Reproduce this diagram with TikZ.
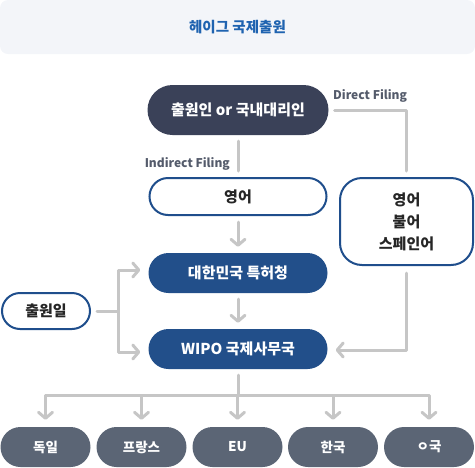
\documentclass[tikz,border=0pt]{standalone}
\usepackage{fontspec}
\setmainfont{Noto Sans CJK KR}
\usetikzlibrary{arrows.meta,shapes.misc}
\definecolor{titlebg}{HTML}{F3F5F9}
\definecolor{titlefg}{HTML}{1F63B0}
\definecolor{navy}{HTML}{3A4158}
\definecolor{kblue}{HTML}{224F8A}
\definecolor{kborder}{HTML}{1F4E8C}
\definecolor{slate}{HTML}{5B6575}
\definecolor{agray}{HTML}{C6C6C6}
\definecolor{lbl}{HTML}{545B6B}
\tikzset{
  pill/.style={rounded rectangle, inner sep=0pt, text centered,
    font=\fontsize{15}{17}\selectfont\bfseries},
  darkpill/.style={pill, fill=navy, text=white, minimum width=181pt, minimum height=50pt},
  outpill/.style={pill, draw=kborder, line width=2pt, fill=white, text=black!85,
    minimum width=177pt, minimum height=37pt},
  bluepill/.style={pill, fill=kblue, text=white, minimum width=179pt, minimum height=40pt},
  cpill/.style={pill, fill=slate, text=white, minimum width=90pt, minimum height=40pt,
    font=\fontsize{13.5}{15}\selectfont\bfseries},
  conn/.style={draw=agray, line width=3pt, line cap=round, line join=round},
  arr/.style={conn, -{Straight Barb[round, length=6pt, width=14pt]}},
  flabel/.style={text=lbl, font=\fontsize{12}{14}\selectfont\bfseries, inner sep=0pt}
}
\begin{document}
\begin{tikzpicture}[x=1pt,y=-1pt]
\useasboundingbox (0,0) rectangle (475,467);
\node[rounded corners=8pt, fill=titlebg, minimum width=475pt, minimum height=54pt,
  inner sep=0pt, text=titlefg, font=\fontsize{14.5}{16}\selectfont\bfseries]
  (title) at (237.5,27) {헤이그 국제출원};

\node[darkpill] (src) at (238,110) {출원인 or 국내대리인};
\node[outpill] (eng) at (238,196.5) {영어};
\node[draw=kborder, line width=2pt, fill=white, rounded corners=22pt,
  minimum width=133pt, minimum height=87pt, inner sep=0pt, align=center,
  text=black!85, font=\fontsize{15}{22}\selectfont\bfseries]
  (multi) at (406.5,221.5) {영어\\불어\\스페인어};
\node[bluepill] (kipo) at (238,273) {대한민국 특허청};
\node[bluepill] (wipo) at (238,349) {WIPO 국제사무국};
\node[outpill, minimum width=88pt, minimum height=36pt] (date) at (46,311) {출원일};

\node[cpill] (c1) at (45.5,447) {독일};
\node[cpill] (c2) at (141.5,447) {프랑스};
\node[cpill] (c3) at (237.5,447) {EU};
\node[cpill] (c4) at (333,447) {한국};
\node[cpill] (c5) at (429,447) {ㅇ국};

\node[flabel, anchor=west] (dlab) at (333,96) {Direct Filing};
\node[flabel, anchor=east] (ilab) at (230,164) {Indirect Filing};

\draw[conn, shorten <=6pt, shorten >=6pt] (src.east) -| (multi.north);
\draw[conn, shorten <=6pt, shorten >=6pt] (src.south) -- (eng.north);
\draw[arr, shorten <=6pt, shorten >=6pt] (eng.south) -- (kipo.north);
\draw[arr, shorten <=6pt, shorten >=6pt] (kipo.south) -- (wipo.north);

\coordinate (split) at (118,311);
\draw[conn, shorten <=6pt] (date.east) -- (split);
\draw[arr, shorten >=8pt] (split) |- ([yshift=3pt]kipo.west);
\draw[arr, shorten >=8pt] (split) |- ([yshift=-3pt]wipo.west);

\draw[arr, shorten <=7pt, shorten >=8pt] (multi.south) |- ([yshift=-1pt]wipo.east);

\coordinate (bus) at (238,395);
\draw[conn, shorten <=6pt] (wipo.south) -- (bus);
\foreach \c in {c1,c2,c3,c4,c5}
  \draw[arr, shorten >=7pt] (bus) -| (\c.north);
\end{tikzpicture}
\end{document}
